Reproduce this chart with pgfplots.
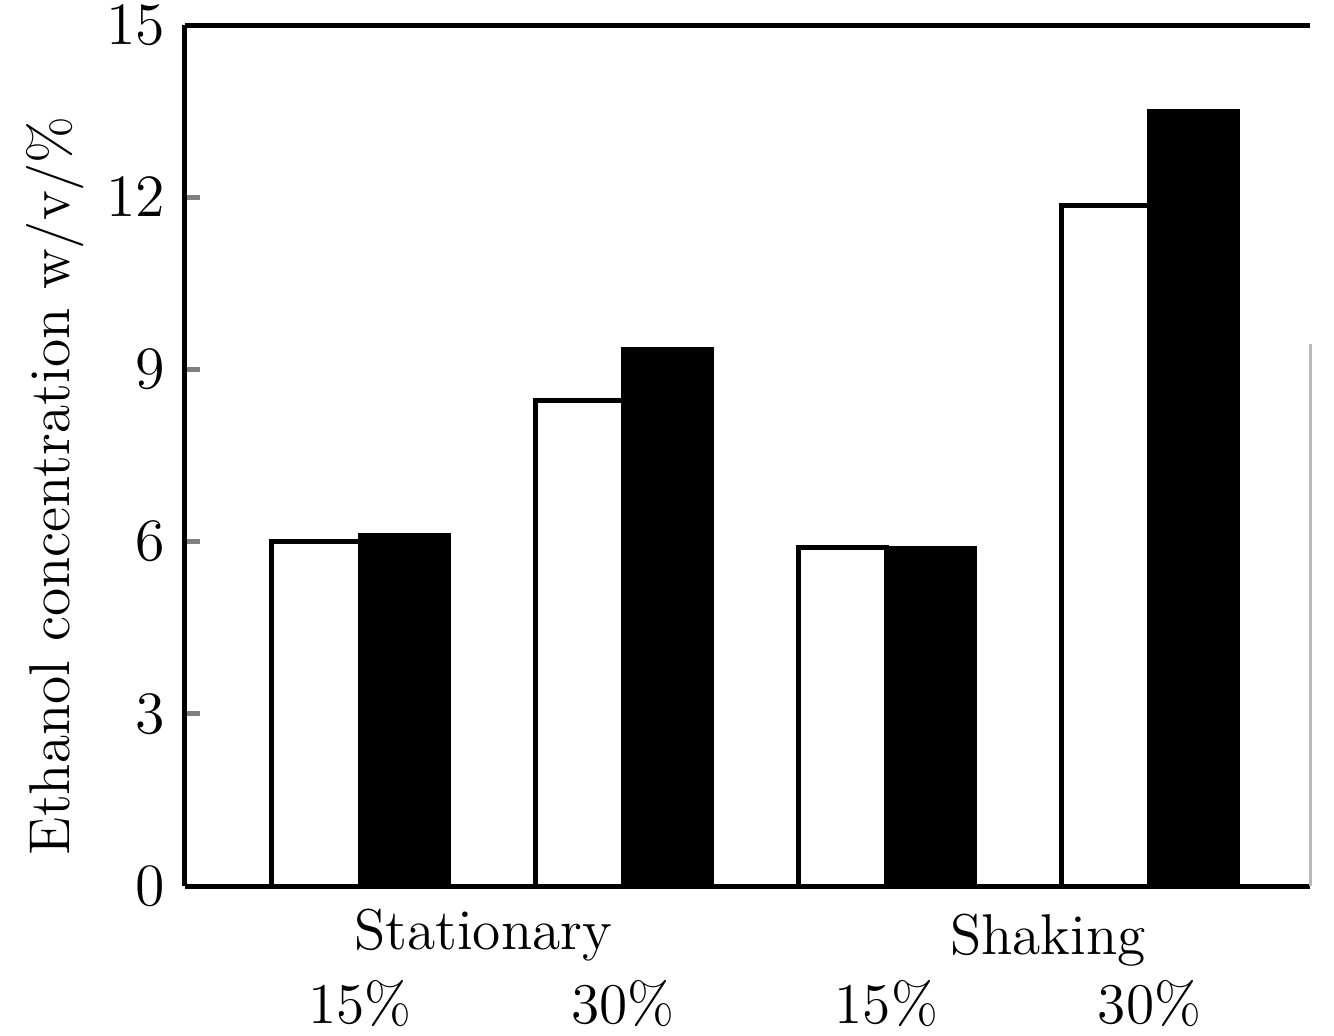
\documentclass[border=0pt]{standalone}
\usepackage{pgfplots}
\pgfplotsset{compat=1.18}
\begin{document}
\begin{tikzpicture}
\fontsize{11.5}{14}\selectfont
\begin{axis}[
  at={(0,0)}, anchor=south west,
  scale only axis, width=225pt, height=172.2pt,
  xmin=0.335, xmax=4.61, ymin=0, ymax=15,
  axis x line=box, axis y line=left,
  axis line style={-, line width=1pt},
  ytick={0,3,6,9,12,15},
  tick align=inside,
  major tick length=3pt,
  ytick style={line width=1pt},
  yticklabel style={font=\fontsize{11.5}{14}\selectfont},
  xtick={1,2,3,4},
  xticklabels={15\%,30\%,15\%,30\%},
  xtick style={draw=none},
  xticklabel style={anchor=center, yshift=-20.6pt, font=\fontsize{11.5}{14}\selectfont},
  ylabel={Ethanol concentration w/v/\%},
  ylabel style={at={(axis description cs:-0.1156,0.465)}, anchor=center, font=\fontsize{11.5}{14}\selectfont},
  ybar, bar width=0.335,
  clip=false,
]
\addplot[draw=black, fill=white, line width=1pt, bar shift=-0.1675] coordinates {(1,6.0) (2,8.45) (3,5.9) (4,11.85)};
\addplot[draw=black, fill=black, line width=1pt, bar shift=0.1675] coordinates {(1,6.1) (2,9.35) (3,5.88) (4,13.5)};
\draw[gray!55, line width=0.6pt] (rel axis cs:1,0) -- (rel axis cs:1,0.63);
\node[anchor=center] at (axis description cs:0.265,-0.057) {Stationary};
\node[anchor=center] at (axis description cs:0.767,-0.063) {Shaking};
\end{axis}
\pgfresetboundingbox
\path (-37pt,-29.8pt) rectangle (229.8pt,177.2pt);
\end{tikzpicture}
\end{document}
